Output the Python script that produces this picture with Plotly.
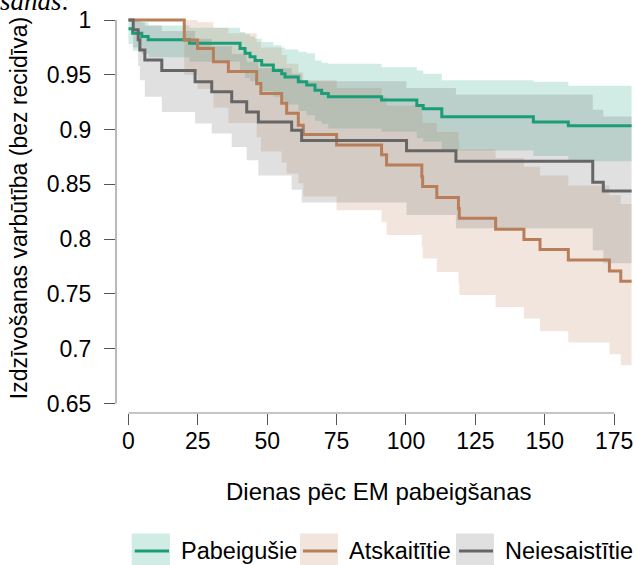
import plotly.graph_objects as go

# ---------------- data ----------------
t_end = 181.3

# Pabeigušie (green)
pab_t  = [0, 1.5, 4.8, 7.1, 22, 40.2, 42, 43.8, 45.6, 48, 52.2, 55.2, 56.4, 61.2, 64.2, 67.2, 69.6, 72, 91.2, 103.9, 106.2, 112.9, 145.9, 158.5]
pab_s  = [0.992, 0.988, 0.985, 0.982, 0.9787, 0.974, 0.9696, 0.9665, 0.963, 0.959, 0.954, 0.951, 0.948, 0.9437, 0.9406, 0.936, 0.933, 0.930, 0.927, 0.922, 0.919, 0.9117, 0.907, 0.9035]
pab_lo = [0.978, 0.972, 0.969, 0.966, 0.962, 0.952, 0.947, 0.944, 0.940, 0.935, 0.930, 0.926, 0.923, 0.917, 0.913, 0.908, 0.905, 0.901, 0.898, 0.892, 0.889, 0.881, 0.876, 0.871]
pab_hi = [1.0, 1.0, 0.998, 0.995, 0.993, 0.989, 0.987, 0.985, 0.983, 0.980, 0.977, 0.975, 0.973, 0.971, 0.9696, 0.963, 0.961, 0.960, 0.957, 0.954, 0.951, 0.945, 0.9437, 0.940]

# Atskaitītie (brown)
ats_t  = [0, 20.1, 24.9, 30.6, 36, 46.2, 47.7, 55.2, 57, 61.2, 63, 75, 91.2, 93, 105.7, 106, 111.1, 118.9, 119.2, 132.3, 142.5, 148.3, 158.5, 173.3, 177.4]
ats_s  = [1.0, 0.9817, 0.974, 0.962, 0.953, 0.942, 0.933, 0.924, 0.915, 0.904, 0.8956, 0.886, 0.877, 0.8676, 0.857, 0.848, 0.838, 0.828, 0.819, 0.809, 0.7997, 0.7906, 0.781, 0.771, 0.7616]
ats_lo = [1.0, 0.95, 0.937, 0.92, 0.906, 0.893, 0.88, 0.87, 0.86, 0.851, 0.839, 0.8265, 0.816, 0.8037, 0.793, 0.7824, 0.770, 0.7595, 0.749, 0.738, 0.7276, 0.716, 0.7057, 0.695, 0.685]
ats_hi = [1.0, 1.0, 0.998, 0.993, 0.988, 0.98, 0.975, 0.968, 0.96, 0.952, 0.945, 0.938, 0.93, 0.922, 0.914, 0.906, 0.898, 0.89, 0.882, 0.874, 0.866, 0.858, 0.849, 0.84, 0.832]

# Neiesaistītie (grey)
nei_t  = [0, 1.7, 3.5, 4.1, 5.9, 12, 24, 30, 37.2, 42.6, 46.8, 58.8, 62.4, 100.2, 118, 167.3, 171.1]
nei_s  = [1.0, 0.991, 0.982, 0.9726, 0.9635, 0.954, 0.9437, 0.9345, 0.9254, 0.916, 0.907, 0.8995, 0.890, 0.8806, 0.871, 0.852, 0.844]
nei_lo = [1.0, 0.975, 0.958, 0.945, 0.93, 0.916, 0.9056, 0.8965, 0.884, 0.872, 0.858, 0.845, 0.8335, 0.822, 0.81, 0.79, 0.778]
nei_hi = [1.0, 1.0, 1.0, 0.998, 0.995, 0.99, 0.983, 0.976, 0.969, 0.962, 0.956, 0.951, 0.944, 0.938, 0.932, 0.918, 0.912]

group_names = ["Pabeigušie", "Atskaitītie", "Neiesaistītie"]
x_ticks = [0, 25, 50, 75, 100, 125, 150, 175]
y_ticks = [0.65, 0.7, 0.75, 0.8, 0.85, 0.9, 0.95, 1]
y_tick_text = ["0.65", "0.7", "0.75", "0.8", "0.85", "0.9", "0.95", "1"]

# ---------------- styling ----------------
line_cols = ["rgb(27,158,119)", "rgb(184,126,89)", "rgb(102,102,102)"]
fill_cols = ["rgba(27,158,119,0.2)", "rgba(184,126,89,0.2)", "rgba(102,102,102,0.2)"]
FONT = "Liberation Sans, Arial, sans-serif"

W, H = 636, 565
L, R, T, B = 116, 0, 12, 152.3
pw, ph = W - L - R, H - T - B
x0_data = -4.5
px_per_t = 2.775
x_range = [x0_data, x0_data + pw / px_per_t]
px_per_v = 1095.0
y_top = 1 + 8 / px_per_v
y_range = [y_top - ph / px_per_v, y_top]

groups = [(pab_t, pab_s, pab_lo, pab_hi), (ats_t, ats_s, ats_lo, ats_hi), (nei_t, nei_s, nei_lo, nei_hi)]

fig = go.Figure()

def ext(t, v):
    return list(t) + [t_end], list(v) + [v[-1]]

for (t, s, lo, hi), fc in zip(groups, fill_cols):
    xl, yl = ext(t, lo)
    xh, yh = ext(t, hi)
    fig.add_trace(go.Scatter(x=xl, y=yl, mode="lines", line=dict(width=0, shape="hv"),
                             hoverinfo="skip", showlegend=False))
    fig.add_trace(go.Scatter(x=xh, y=yh, mode="lines", line=dict(width=0, shape="hv"),
                             fill="tonexty", fillcolor=fc, hoverinfo="skip", showlegend=False))

for (t, s, lo, hi), lc, nm in zip(groups, line_cols, group_names):
    xs, ys = ext(t, s)
    fig.add_trace(go.Scatter(x=xs, y=ys, mode="lines", name=nm,
                             line=dict(color=lc, width=3, shape="hv"), showlegend=False))

# axis lines (R style: only over tick range)
fig.add_shape(type="line", xref="paper", yref="y", x0=0, x1=0, y0=y_ticks[0], y1=y_ticks[-1],
              line=dict(color="#8c8c8c", width=1.2))
fig.add_shape(type="line", xref="x", yref="paper", x0=x_ticks[0], x1=x_ticks[-1], y0=0, y1=0,
              line=dict(color="#8c8c8c", width=1.2))

fig.update_xaxes(range=x_range, tickvals=x_ticks, ticks="outside", ticklen=11, tickwidth=1.2,
                 tickcolor="#555555", showline=False, showgrid=False, zeroline=False,
                 tickfont=dict(family=FONT, size=23, color="black"), ticklabelstandoff=-4)
fig.update_yaxes(range=y_range, tickvals=y_ticks, ticktext=y_tick_text, ticks="outside", ticklen=11,
                 tickwidth=1.2, tickcolor="#555555", showline=False, showgrid=False, zeroline=False,
                 tickfont=dict(family=FONT, size=23, color="black"), ticklabelstandoff=8)

def px2paper_x(px):
    return (px - L) / pw

def py2paper_y(py):
    return (H - B - py) / ph

ann = []
# y title
ann.append(dict(text="Izdzīvošanas varbūtība (bez recidīva)", xref="paper", yref="paper",
                x=px2paper_x(19), y=py2paper_y(208), xanchor="center", yanchor="middle",
                textangle=-90, showarrow=False, font=dict(family=FONT, size=23, color="black")))
# x title
ann.append(dict(text="Dienas pēc EM pabeigšanas", xref="paper", yref="paper",
                x=px2paper_x(378.5), y=py2paper_y(491), xanchor="center", yanchor="middle",
                showarrow=False, font=dict(family=FONT, size=24, color="black")))
# clipped caption text at top-left
ann.append(dict(text="<i>sanas:</i>", xref="paper", yref="paper",
                x=px2paper_x(-2), y=py2paper_y(1), xanchor="left", yanchor="middle",
                showarrow=False, font=dict(family="Liberation Serif, Times New Roman, serif", size=27, color="black")))

# manual legend
leg_boxes = [(131.7, 170), (300, 338), (456, 494)]
leg_text_x = [179, 347, 503]
box_top, box_bot, line_y = 533, 569, 550.7
for (bx0, bx1), tx, nm, lc, fc in zip(leg_boxes, leg_text_x, group_names, line_cols, fill_cols):
    fig.add_shape(type="rect", xref="paper", yref="paper", x0=px2paper_x(bx0), x1=px2paper_x(bx1),
                  y0=py2paper_y(box_bot), y1=py2paper_y(box_top), line=dict(width=0), fillcolor=fc)
    fig.add_shape(type="line", xref="paper", yref="paper", x0=px2paper_x(bx0 + 3), x1=px2paper_x(bx1 - 1),
                  y0=py2paper_y(line_y), y1=py2paper_y(line_y), line=dict(color=lc, width=3))
    ann.append(dict(text=nm, xref="paper", yref="paper", x=px2paper_x(tx), y=py2paper_y(551),
                    xanchor="left", yanchor="middle", showarrow=False,
                    font=dict(family=FONT, size=23.5, color="black")))

fig.update_layout(width=W, height=H, margin=dict(l=L, r=R, t=T, b=B, pad=0),
                  plot_bgcolor="white", paper_bgcolor="white", showlegend=False,
                  annotations=ann)

fig.write_html("out.html", config={"displayModeBar": False},
               post_script="document.body.style.margin='0';document.body.style.overflow='hidden';")
